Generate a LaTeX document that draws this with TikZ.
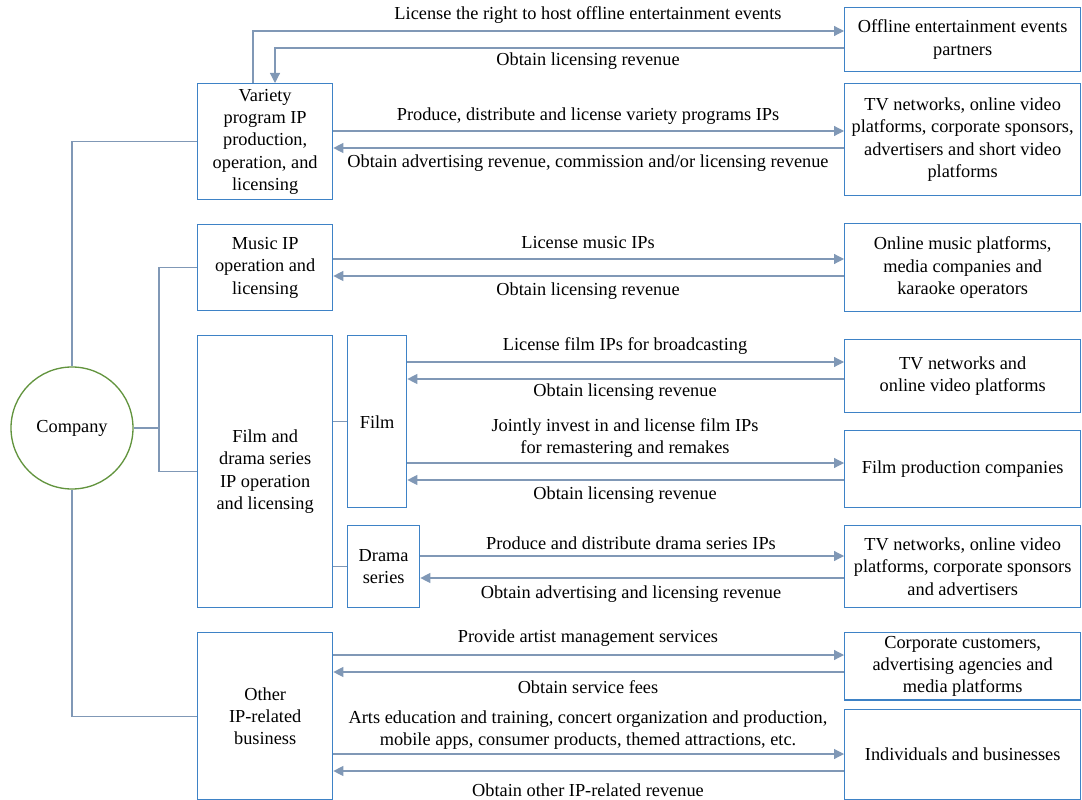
\documentclass[tikz,border=0pt]{standalone}
\usepackage{fontspec}
\setmainfont{Liberation Serif}
\usetikzlibrary{arrows.meta}
\definecolor{boxblue}{RGB}{62,130,198}
\definecolor{linkgray}{RGB}{128,152,182}
\definecolor{circgreen}{RGB}{98,148,62}
\begin{document}
\begin{tikzpicture}[x=0.6pt, y=-0.6pt, font=\fontsize{11}{13.4}\selectfont,
    unit/.style={draw=boxblue, line width=0.8pt, anchor=north west, align=center, inner sep=2pt},
    partner/.style={unit, minimum width=141.6pt},
    link/.style={draw=linkgray, line width=0.7pt},
    flow/.style={link, -{Triangle[length=6pt, width=6pt]}},
    lbl/.style={align=center, inner sep=1pt}]
    \useasboundingbox (0,0) rectangle (1082,800);

    % Company
    \node[draw=circgreen, line width=0.8pt, circle, minimum size=73.2pt, inner sep=0pt] (company) at (72,428) {Company};

    % Business lines (left column)
    \node[unit, minimum width=81pt, minimum height=69.6pt] (variety) at (197,83) {Variety\\program IP\\production,\\operation, and\\licensing};
    \node[unit, minimum width=81pt, minimum height=51.6pt] (music) at (197,224) {Music IP\\operation and\\licensing};
    \node[unit, minimum width=81pt, minimum height=163.2pt] (filmdrama) at (197,335) {Film and\\drama series\\IP operation\\and licensing};
    \node[unit, minimum width=35.4pt, minimum height=103.2pt] (film) at (347,335) {Film};
    \node[unit, minimum width=43.2pt, minimum height=49.2pt] (drama) at (347,525) {Drama\\series};
    \node[unit, minimum width=81pt, minimum height=100.2pt] (other) at (197,632) {Other\\IP-related\\business};

    % Partners (right column)
    \node[partner, minimum height=38.4pt] (offline) at (844,7) {Offline entertainment events\\partners};
    \node[partner, minimum height=67.2pt] (tvvariety) at (844,83) {TV networks, online video\\platforms, corporate sponsors,\\advertisers and short video\\platforms};
    \node[partner, minimum height=52.8pt] (musicplat) at (844,223) {Online music platforms,\\media companies and\\karaoke operators};
    \node[partner, minimum height=43.8pt] (tvfilm) at (844,339) {TV networks and\\online video platforms};
    \node[partner, minimum height=46.2pt] (filmprod) at (844,430) {Film production companies};
    \node[partner, minimum height=49.2pt] (tvdrama) at (844,525) {TV networks, online video\\platforms, corporate sponsors\\and advertisers};
    \node[partner, minimum height=37.8pt] (corporate) at (844,632) {Corporate customers,\\advertising agencies and\\media platforms};
    \node[partner, minimum height=54pt] (individuals) at (844,709) {Individuals and businesses};

    % Tree from the company
    \coordinate (split) at (159,428);
    \draw[link] (company.north) |- (variety.west);
    \draw[link] (company.south) |- (other.west);
    \draw[link] (company.east) -- (split);
    \draw[link] (music.west) -| (split) |- (filmdrama.west);
    \draw[link] (filmdrama.east |- film.west) -- (film.west);
    \draw[link] (filmdrama.east |- drama.west) -- (drama.west);

    % Flows: offline events
    \draw[flow] (variety.north -| 253,0) |- (offline.west |- 0,31);
    \draw[flow] (offline.west |- 0,48) -| (variety.north -| 275,0);
    \node[lbl] (l1) at (588,15) {License the right to host offline entertainment events};
    \node[lbl] (l2) at (588,61) {Obtain licensing revenue};

    % Flows: variety programs
    \draw[flow] (variety.east |- 0,131) -- (tvvariety.west |- 0,131);
    \draw[flow] (tvvariety.west |- 0,148) -- (variety.east |- 0,148);
    \node[lbl] (l3) at (588,116) {Produce, distribute and license variety programs IPs};
    \node[lbl] (l4) at (588,163) {Obtain advertising revenue, commission and/or licensing revenue};

    % Flows: music
    \draw[flow] (music.east |- 0,259) -- (musicplat.west |- 0,259);
    \draw[flow] (musicplat.west |- 0,276) -- (music.east |- 0,276);
    \node[lbl] (l5) at (588,243) {License music IPs};
    \node[lbl] (l6) at (588,291) {Obtain licensing revenue};

    % Flows: film
    \draw[flow] (film.east |- 0,362) -- (tvfilm.west |- 0,362);
    \draw[flow] (tvfilm.west |- 0,379) -- (film.east |- 0,379);
    \node[lbl] (l7) at (625,346) {License film IPs for broadcasting};
    \node[lbl] (l8) at (625,392) {Obtain licensing revenue};
    \draw[flow] (film.east |- 0,463) -- (filmprod.west |- 0,463);
    \draw[flow] (filmprod.west |- 0,480) -- (film.east |- 0,480);
    \node[lbl] (l9) at (625,438) {Jointly invest in and license film IPs\\for remastering and remakes};
    \node[lbl] (l10) at (625,495) {Obtain licensing revenue};

    % Flows: drama series
    \draw[flow] (drama.east |- 0,556) -- (tvdrama.west |- 0,556);
    \draw[flow] (tvdrama.west |- 0,578) -- (drama.east |- 0,578);
    \node[lbl] (l11) at (631,543) {Produce and distribute drama series IPs};
    \node[lbl] (l12) at (631,594) {Obtain advertising and licensing revenue};

    % Flows: other business
    \draw[flow] (other.east |- 0,655) -- (corporate.west |- 0,655);
    \draw[flow] (corporate.west |- 0,672) -- (other.east |- 0,672);
    \node[lbl] (l13) at (588,638) {Provide artist management services};
    \node[lbl] (l14) at (588,687) {Obtain service fees};
    \draw[flow] (other.east |- 0,754) -- (individuals.west |- 0,754);
    \draw[flow] (individuals.west |- 0,771) -- (other.east |- 0,771);
    \node[lbl] (l15) at (588,730) {Arts education and training, concert organization and production,\\mobile apps, consumer products, themed attractions, etc.};
    \node[lbl] (l16) at (588,790) {Obtain other IP-related revenue};
\end{tikzpicture}
\end{document}
